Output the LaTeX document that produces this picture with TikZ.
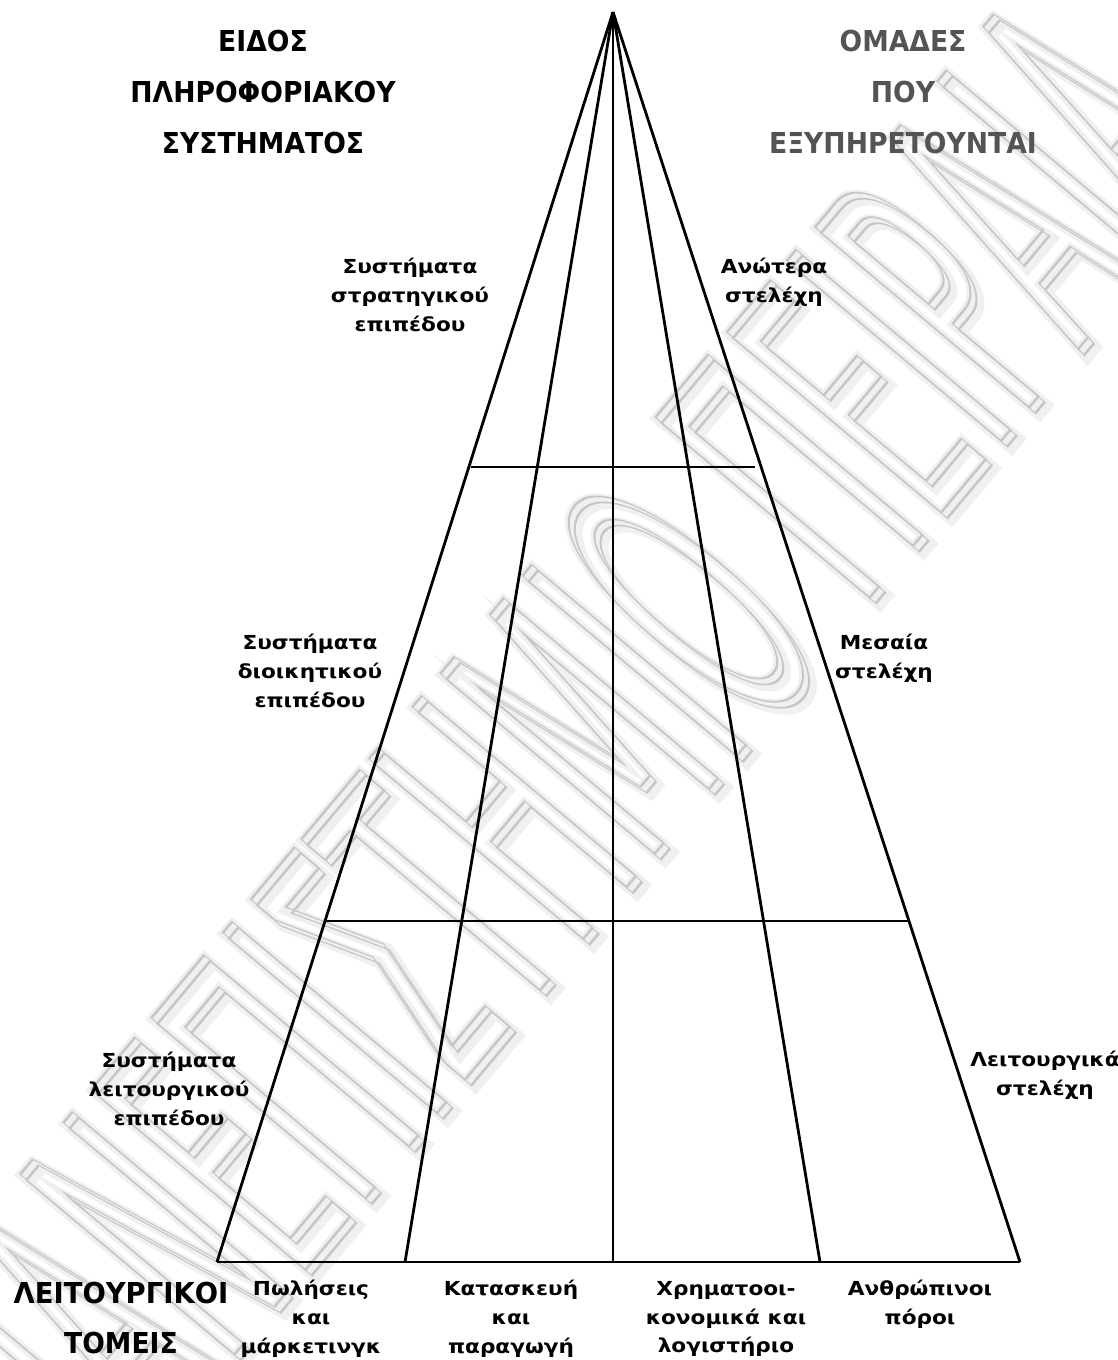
\documentclass[tikz,border=0pt]{standalone}
\usepackage{fontspec}
\setmainfont{DejaVu Sans}
\newfontfamily\headfont{DejaVu Sans}[FakeStretch=0.925]
\newfontfamily\lblfont{DejaVu Sans}[FakeStretch=1.12]
\newfontfamily\sealfont{DejaVu Sans}
\definecolor{headgray}{RGB}{84,84,84}
\definecolor{sealgray}{RGB}{198,198,198}
\definecolor{sealhaze}{RGB}{240,240,240}
% switch the PDF text rendering mode (1 = outlined glyphs, 0 = filled)
\newcommand\textrender[1]{\special{pdf:literal #1}}
\newcommand\sealwords{ΠΑΝΕΠΙΣΤΗΜΙΟ ΠΕΙΡΑΙΑ}

\begin{document}
\begin{tikzpicture}[x=1pt,y=-1pt,
  edge/.style={line width=2.8pt},
  head/.style={font=\headfont\bfseries\fontsize{28.8}{51}\selectfont, anchor=base, inner sep=0pt},
  lbl/.style={font=\lblfont\bfseries\fontsize{19.3}{28.8}\selectfont, align=center, inner sep=0pt},
  sealtext/.style={font=\sealfont\fontsize{384}{400}\selectfont, rotate=50, xscale=0.385,
               transform shape, inner sep=0pt},
]
\useasboundingbox (0,0) rectangle (1118,1360);
\fill[white] (0,0) rectangle (1118,1360);

% background seal text: soft haze, then two outlined copies
\node[sealtext, text=sealhaze] (wm0) at (560,760)
  {\textrender{1 Tr 22 w}\sealwords\textrender{0 Tr}};
\node[sealtext, text=sealgray] (wm2) at (561,761)
  {\textrender{1 Tr 2.5 w}\sealwords\textrender{0 Tr}};
\node[sealtext, text=sealgray] (wm1) at (555,755)
  {\textrender{1 Tr 2.5 w}\sealwords\textrender{0 Tr}};

% pyramid frame
\coordinate (apex) at (613,12);
\coordinate (b1) at (217,1262);
\coordinate (b2) at (405,1262);
\coordinate (b3) at (613,1262);
\coordinate (b4) at (820,1262);
\coordinate (b5) at (1020,1262);
\coordinate (u1) at (471,467);
\coordinate (u2) at (755,467);
\coordinate (l1) at (325,921);
\coordinate (l2) at (909,921);

\draw[edge] (apex) -- (b1);
\draw[edge] (apex) -- (b2);
\draw[edge] (apex) -- (b3);
\draw[edge] (apex) -- (b4);
\draw[edge] (apex) -- (b5);
\draw[edge] (b1) -- (b5);
\draw[edge] (u1) -- (u2);
\draw[edge] (l1) -- (l2);

% column headings
\node[head] (h1) at (263,51.5) {ΕΙΔΟΣ};
\node[head] (h2) at (263,102) {ΠΛΗΡΟΦΟΡΙΑΚΟΥ};
\node[head] (h3) at (263,153) {ΣΥΣΤΗΜΑΤΟΣ};
\node[head, text=headgray] (g1) at (903,51.5) {ΟΜΑΔΕΣ};
\node[head, text=headgray] (g2) at (903,102) {ΠΟΥ};
\node[head, text=headgray] (g3) at (903,153) {ΕΞΥΠΗΡΕΤΟΥΝΤΑΙ};

% level labels
\node[lbl] (s1) at (410,295) {Συστήματα\\στρατηγικού\\επιπέδου};
\node[lbl] (r1) at (774,282) {Ανώτερα\\στελέχη};
\node[lbl] (s2) at (310,671) {Συστήματα\\διοικητικού\\επιπέδου};
\node[lbl] (r2) at (884,658) {Μεσαία\\στελέχη};
\node[lbl] (s3) at (169,1089) {Συστήματα\\λειτουργικού\\επιπέδου};
\node[lbl] (r3) at (1045,1075) {Λειτουργικά\\στελέχη};

% functional areas
\node[head, xscale=1.03, transform shape] (f1) at (121,1303) {ΛΕΙΤΟΥΡΓΙΚΟΙ};
\node[head] (f2) at (121,1353) {ΤΟΜΕΙΣ};
\node[lbl] (a1) at (311,1319) {Πωλήσεις\\και\\μάρκετινγκ};
\node[lbl] (a2) at (511,1319) {Κατασκευή\\και\\παραγωγή};
\node[lbl] (a3) at (726,1319) {Χρηματοοι-\\κονομικά και\\λογιστήριο};
\node[lbl] (a4) at (920,1304) {Ανθρώπινοι\\πόροι};
\end{tikzpicture}
\end{document}
